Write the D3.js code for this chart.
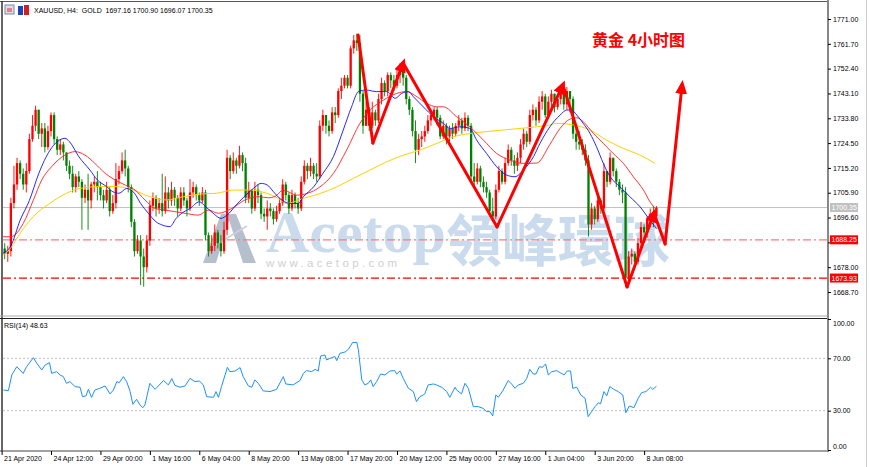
<!DOCTYPE html>
<html>
<head>
<meta charset="utf-8">
<script src="https://cdn.jsdelivr.net/npm/d3@7"></script>
<style>
  body { margin: 0; background: #fff; }
  text { font-family: "Liberation Sans", Arial, sans-serif; }
</style>
</head>
<body>
<div id="chart"></div>
<script>
// XAUUSD H4 candles, one value per bar (open of a bar = close of the bar before)
var firstOpen = 1684;
var closes = [1685,1683,1684,1702,1709,1717,1713,1709,1714,1726,
  1731,1737,1728,1730,1723,1729,1735,1726,1722,1724,
  1721,1716,1713,1708,1712,1710,1704,1707,1703,1709,
  1710,1708,1705,1703,1707,1699,1702,1711,1714,1718,
  1715,1708,1695,1684,1688,1682,1678,1688,1701,1704,
  1700,1702,1699,1706,1703,1707,1704,1700,1706,1703,
  1700,1706,1708,1705,1703,1706,1690,1684,1686,1691,
  1687,1684,1692,1719,1714,1718,1716,1720,1717,1704,
  1707,1700,1707,1705,1698,1697,1700,1699,1696,1699,
  1702,1709,1705,1700,1705,1702,1700,1710,1716,1714,
  1716,1713,1712,1731,1735,1731,1729,1736,1735,1744,
  1746,1749,1746,1760,1763,1762,1743,1731,1737,1731,
  1736,1733,1741,1747,1744,1750,1748,1746,1750,1753,
  1749,1741,1737,1729,1722,1726,1727,1729,1733,1735,
  1737,1734,1727,1731,1727,1730,1728,1731,1733,1730,
  1734,1731,1712,1710,1715,1710,1708,1706,1699,1697,
  1707,1714,1710,1717,1722,1718,1716,1719,1724,1728,
  1725,1735,1737,1733,1740,1742,1735,1740,1743,1738,
  1741,1743,1739,1744,1741,1728,1725,1724,1722,1718,
  1694,1700,1696,1703,1700,1714,1710,1719,1714,1710,
  1707,1706,1674,1682,1683,1680,1687,1693,1691,1696,
  1698,1697.16,1700.35];
var highs = [1689,1687,1686,1704,1716,1719,1718,1715,1717,1728,
  1735,1738.5,1737,1732,1732,1731,1736,1736,1727,1726,
  1725,1721,1718,1716,1713,1714,1711,1709,1713,1710,
  1712,1714,1710,1707,1710,1708,1705,1717,1716,1721,
  1722,1716,1709,1696,1690,1690,1685,1690,1703,1706,
  1705,1704,1713,1712,1708,1710,1708,1705,1708,1708,
  1704,1711,1710,1709,1706,1708,1707,1691,1690,1694,
  1692,1690,1695,1722,1720,1721,1719,1723.5,1721,1719,
  1710,1707,1710,1709,1706,1700,1703,1702,1700,1701,
  1704,1711,1710,1706,1707,1706,1704,1712,1718,1717,
  1719,1717,1717,1733,1737,1735,1733,1738,1738,1745,
  1749,1750,1750,1761,1765,1765.5,1765,1744,1740,1738,
  1740,1737,1743,1749,1748,1751,1751,1750,1752,1754.5,
  1753,1750,1742,1738,1733,1728,1729,1731,1735,1737,
  1738,1738,1735,1733,1732,1731,1732,1732,1735,1734,
  1736,1735,1732,1717,1717,1716,1712,1710,1707,1704,
  1709,1716,1715,1719,1724,1723,1720,1721,1726,1730,
  1729,1737,1739,1738,1742,1744,1743,1742,1744.5,1743,
  1742,1744,1744,1745.5,1744,1742,1730,1729,1726,1724,
  1720,1702,1701,1705,1704,1717,1714,1721,1719,1715,
  1711,1709,1708,1684,1685,1684,1689,1695,1694,1697,
  1700,1701,1700.9];
var lows = [1682,1681,1680,1682,1700,1707,1711,1707,1706,1713,
  1725,1729,1726,1723,1721,1722,1727,1724,1720,1720,
  1718,1714,1711,1706,1706,1708,1692,1702,1692,1700,
  1706,1703,1703,1700,1702,1697,1698,1700,1709,1713,
  1712,1706,1693,1682,1683,1671.3,1670.7,1676,1686,1699,
  1697,1698,1697,1698,1700,1701,1701,1697,1699,1701,
  1697,1699,1704,1703,1701,1702,1688,1682,1683,1684,
  1685,1682,1683,1690,1711,1713,1713,1715,1714,1702,
  1702,1698,1699,1702,1696,1695,1692,1697,1694,1695,
  1698,1701,1703,1698,1699,1700,1698,1699,1709,1711,
  1712,1711,1710,1711,1729,1728,1727,1728,1732,1734,
  1741,1745,1745,1745,1758,1759,1740,1728,1731,1729,
  1730,1731,1732,1739,1742,1742,1745,1744,1745,1747,
  1746,1739,1735,1727,1717,1720,1723,1725,1728,1731,
  1733,1731,1726,1726,1724,1725,1726,1727,1729,1728,
  1729,1729,1710,1708,1709,1708,1706,1704,1697,1695,
  1696,1706,1709,1709,1716,1716,1713,1714,1717,1722,
  1723,1724,1733,1731,1732,1737,1734,1734,1738,1736,
  1737,1739,1737,1737,1736,1726,1722,1722,1720,1716,
  1689.5,1692,1694,1695,1698,1699,1708,1709,1712,1708,
  1705,1702,1670.6,1672,1679,1678,1679,1685,1689,1689,
  1693,1693,1696.07];

// moving averages as [bar, price]
var blueMA = [[0,1683],[3,1686],[6,1695.6],[9,1703],[12,1713],[15.7,1721.9],[18,1725],[20.5,1726.3],[22,1725],
  [25,1719.4],[28.6,1714.4],[31,1710.7],[34,1708.2],[36,1706.3],[38,1705.7],[40.5,1707.5],[43,1705.7],
  [45,1701.9],[47.5,1698.2],[50,1695],[52,1693.8],[54.5,1693.2],[56.5,1696.3],[58.3,1698.2],[61,1700],
  [64,1702.5],[66,1700.7],[68.5,1698.2],[71,1696.3],[73,1697.5],[75.5,1700.7],[78.5,1704.4],[81.5,1707.5],
  [84,1709.4],[86,1708.8],[88,1706.3],[90,1703.8],[93.4,1701.9],[96,1701.9],[97.7,1704.4],[101,1708.1],
  [104,1713.1],[107.4,1719.4],[110.6,1729.4],[113.3,1738.1],[115.5,1743.8],[118,1744.4],[121.4,1743.8],
  [124.7,1743.8],[127.4,1741.3],[129.5,1743.1],[131.7,1743.8],[133.3,1741.9],[136.5,1738.1],[139.8,1734.4],
  [143,1731.9],[145.2,1730],[148.4,1730.6],[151.6,1730],[153.8,1725.6],[157,1720.6],[160.3,1715.6],
  [163.5,1712.5],[166.2,1711.9],[168.9,1714.4],[172.2,1719.4],[174.3,1724.4],[177.5,1730.6],[180.8,1735],
  [183,1736.9],[184.5,1736.9],[186.2,1735],[188.3,1731.9],[190.5,1728.1],[192.6,1723.1],[194.8,1716.9],
  [197,1711.9],[200.2,1708.1],[203.4,1704.4],[206.7,1700.6],[209.9,1695.6],[212,1692.5]];
var redMA = [[0,1689.4],[3,1689.4],[7,1694.4],[10.3,1703.2],[13,1710.7],[16.2,1715.7],[20.5,1720],[23.8,1721.3],
  [27,1720],[30.2,1716.9],[33.5,1713.2],[36.7,1710.7],[40,1708.8],[43.2,1706.9],[46.4,1703.2],[49.7,1700],
  [52.9,1699.4],[56.1,1698.8],[59.4,1698.2],[63.7,1697.5],[66.9,1699.4],[70.2,1698.2],[74.5,1700],
  [78.8,1703.2],[83.1,1704.4],[86.4,1704],[88.5,1704.5],[91.2,1706.9],[95.5,1705],[98.8,1705.6],
  [103.1,1708.1],[107.4,1713.1],[111.7,1721.9],[116,1731.9],[119.3,1736.9],[123.6,1740.6],[127.9,1743.1],
  [131.1,1743.8],[134.4,1741.9],[137.6,1739.4],[140.9,1738.1],[143,1738.1],[147.3,1734.4],[151.6,1730.6],
  [156,1725.6],[160.3,1720.6],[164.6,1718.1],[168.9,1716.9],[173.2,1717],[177.5,1724],[180.8,1730],
  [184,1733.5],[186.2,1734],[188.3,1732.5],[191.6,1728.1],[194.8,1724.4],[198,1720.6],[201.3,1716.9],
  [204.5,1711.9],[207.8,1706.9],[209.9,1702.5],[212,1699.4]];
var yellowMA = [[0,1682],[3.2,1685.6],[6,1690.7],[10.3,1697],[15.7,1702],[21,1705.7],[25.4,1707.5],
  [31.8,1708.2],[37.3,1708.2],[42.6,1706.9],[48,1704.4],[53.4,1703.2],[58.8,1704.4],[64.2,1705.4],
  [69.6,1705.7],[75,1706.9],[80.4,1706.9],[85.8,1705.7],[89.6,1703.8],[92.3,1701.9],[97.7,1703.8],
  [103.1,1705.6],[108.5,1708.1],[113.9,1711.3],[119.3,1714.4],[124.7,1717.5],[130.1,1720],[135.5,1721.9],
  [140.9,1724.4],[146.3,1726.9],[151.6,1728.1],[157,1728.8],[162.4,1729.4],[167.8,1730],[173.2,1730.6],
  [177.5,1731.3],[179.7,1731.9],[185.1,1731.3],[190.5,1729.4],[195.9,1725.6],[201.3,1722.5],[206.7,1720],
  [211.5,1716.9]];

// RSI(14) as [bar, value]
var rsiPoints = [[0.6,45.8],[2.2,45.3],[3.3,57.3],[4.9,63.6],[7,58.5],[8.1,63.6],[10.3,70.5],[11.4,66.2],
  [13,61.1],[14.1,64.9],[15.5,66.7],[16.2,58.5],[17.8,59.8],[18.9,57.3],[20,56],[21,50.9],[22.1,52.2],
  [23.8,48.4],[25.4,47.9],[26.2,40.7],[27.3,41.3],[28.1,46.3],[29.1,40.2],[30.2,45.8],[31.8,47.1],
  [33.5,48.9],[35.1,42.8],[36.2,45.8],[37.3,52.2],[38.1,51.4],[39.4,56],[40.5,52.2],[41.6,44.6],
  [42.5,34.9],[43.7,38.7],[44.8,34.4],[45.7,32.3],[46.4,34.4],[48,50.9],[49.7,46.3],[52.4,53],[54,49.7],
  [55.1,54.5],[56.1,49.4],[57.7,47.9],[59.4,48.9],[61,54.7],[62.6,52.2],[64,52.7],[65.3,49.7],[66.4,40.7],
  [68.6,40.2],[69.4,44.6],[70.2,40.2],[71.2,48.4],[73.1,63.1],[73.9,59.8],[75.6,60.3],[77.2,62.9],
  [78.2,56],[79.9,48.9],[81,47.9],[82,53.5],[83.1,50.9],[84.7,45.1],[86.9,44.6],[89,46.3],[91.2,56],
  [92,50.4],[94.4,49.7],[96.6,53],[97.7,58.5],[98.7,60.6],[100.4,59.8],[101.5,61.6],[102.5,60.3],
  [103.3,71.8],[104.7,72.5],[105.2,68.7],[106.8,70.5],[107.9,71.3],[108.5,68.2],[109.5,73.8],[111.2,74.8],
  [112.3,76.9],[113.6,82],[115,82.2],[115.5,76.4],[116.6,53.5],[117.6,49.7],[118.7,50.9],[119.5,53.5],
  [120.3,48.4],[121.4,52.2],[122.7,58],[124.1,57.3],[125.7,60.3],[127.3,60.6],[127.9,58],[129,60.3],
  [130,54.7],[131.7,47.1],[133.3,44.6],[134.3,36.9],[135.4,40.7],[136.5,42],[137,42.8],[138.1,49.7],
  [139.8,50.4],[140.8,49.7],[142.5,47.9],[144.1,44.6],[145.1,40.2],[146.8,47.9],[147.3,45.8],[148.9,42.8],
  [150,50.9],[151.1,47.1],[152.7,33.1],[154.3,33.1],[155.9,31.8],[157,29.3],[158.1,29.3],[159,26],
  [160,42],[160.8,40.2],[162.4,45.8],[164,53],[165.1,50.4],[166.2,47.1],[167.3,49.7],[168.9,50.9],
  [170,54.7],[171,61.6],[172.1,58],[173,58],[174.1,63.6],[175.1,63.1],[176.1,65.7],[177,57.3],[178.1,59.8],
  [179.7,60.6],[180.8,59.1],[182.1,57.3],[183.1,60.3],[184.2,60.3],[184.9,47.1],[186.2,47.9],[187.5,42],
  [188.9,39.5],[189.9,25.5],[191,29.3],[192.1,33.1],[193.2,36.1],[193.9,35.2],[195,44.6],[195.9,41.3],
  [196.9,48.4],[198.2,46.3],[199.6,44.6],[201.1,42],[202.1,28.5],[203.2,33.6],[204.7,32.3],[206.1,39.5],
  [207.2,43.8],[208.6,44.6],[209.4,46.3],[210.1,47.9],[210.8,46.3],[212,48.63]];

// axis ticks
var timeTicks = [0,16,32,48,64,80,96,112,128,144,160,176,192,208];
var timeLabels = ["21 Apr 2020","24 Apr 12:00","29 Apr 00:00","1 May 16:00","6 May 04:00","8 May 20:00",
  "13 May 08:00","17 May 20:00","20 May 12:00","25 May 00:00","27 May 16:00","1 Jun 04:00",
  "3 Jun 20:00","8 Jun 08:00"];
var priceTicks = [1771.00,1761.70,1752.40,1743.10,1733.80,1724.50,1715.20,1705.90,1696.60,1687.30,1678.00,1668.70];
var rsiTicks = [100,70,30,0];
var rsiLevels = [70,30];

// price lines
var lastPrice = 1700.35;
var levelHigh = 1688.25;
var levelLow = 1673.93;

// hand drawn zigzag forecast, as [bar, price]
var zigBars = [115.4,120.2,130,160.4,181.7,202.5,211.2,214.8,220.3];
var zigPrices = [1765,1724.5,1754.5,1693.1,1746.3,1670.6,1698.3,1686.7,1746.3];

function init(){

  var w = 870, h = 467;
  var left = 3, right = 828;

  var svg = d3.select("#chart")
    .append("svg")
      .attr("width", w)
      .attr("height", h)
      .style("display", "block");

  svg.append("rect").attr("width", w).attr("height", h).attr("fill", "#fff");

  // scales
  var x = d3.scaleLinear().domain([0, 208]).range([1.6, 644.1]);
  var y = d3.scaleLinear().domain([1668.7, 1771]).range([292, 19]);
  var yr = d3.scaleLinear().domain([0, 100]).range([450, 319]);

  var defs = svg.append("defs");
  defs.append("clipPath").attr("id", "clipMain")
    .append("rect").attr("x", left).attr("y", 3).attr("width", right - left).attr("height", 313);
  defs.append("clipPath").attr("id", "clipRsi")
    .append("rect").attr("x", left).attr("y", 319).attr("width", right - left).attr("height", 131);
  defs.append("marker")
      .attr("id", "arrow")
      .attr("markerUnits", "userSpaceOnUse")
      .attr("markerWidth", 14).attr("markerHeight", 12)
      .attr("refX", 9).attr("refY", 6)
      .attr("orient", "auto")
    .append("path")
      .attr("d", "M0,0 L14,6 L0,12 Z")
      .attr("fill", "#ff0000");

  var main = svg.append("g").attr("clip-path", "url(#clipMain)");

  // watermark behind the candles
  var wm = main.append("g").attr("opacity", 0.9);
  wm.append("path")
    .attr("d", "M203,263 L221,214 L231,214 L216,263 Z M227,214 L236,214 L256,263 L243,263 Z")
    .attr("fill", "#aeb9c8");
  wm.append("path")
    .attr("d", "M212,247 L247,226")
    .attr("stroke", "#c4cedb").attr("stroke-width", 2);
  wm.append("text")
    .attr("x", 266).attr("y", 252)
    .style("font-family", "'Liberation Serif', serif")
    .style("font-size", "60px")
    .style("font-weight", "bold")
    .attr("fill", "#c4d8ec")
    .text("Acetop");
  wm.append("text")
    .attr("x", 446).attr("y", 261)
    .style("font-family", "'Noto Sans CJK TC', sans-serif")
    .style("font-size", "56px")
    .style("font-weight", "bold")
    .attr("fill", "#c4d8ec")
    .text("領峰環球");
  wm.append("text")
    .attr("x", 266).attr("y", 267)
    .style("font-size", "11.5px")
    .style("letter-spacing", "3.4px")
    .attr("fill", "#cccccc")
    .text("www.acetop.com");

  // bid line and the two support levels
  main.append("line")
    .attr("x1", left).attr("x2", right)
    .attr("y1", y(lastPrice)).attr("y2", y(lastPrice))
    .attr("stroke", "#c0c0c0");
  main.append("line")
    .attr("x1", left).attr("x2", right)
    .attr("y1", y(levelHigh)).attr("y2", y(levelHigh))
    .attr("stroke", "#ff7a7a").attr("stroke-width", 1.3)
    .attr("stroke-dasharray", "8,3,2,3");
  main.append("line")
    .attr("x1", left).attr("x2", right)
    .attr("y1", y(levelLow)).attr("y2", y(levelLow))
    .attr("stroke", "#ff0000").attr("stroke-width", 1.3)
    .attr("stroke-dasharray", "8,3,2,3");

  // build candles
  var bars = closes.map(function(c, i){
    var o = i ? closes[i-1] : firstOpen;
    return {i: i, o: o, c: c, h: Math.max(highs[i], o, c), l: Math.min(lows[i], o, c)};
  });
  var colour = function(d){ return d.c >= d.o ? "#ff0000" : "#008000"; };

  main.append("g").selectAll("line")
    .data(bars)
    .enter().append("line")
      .attr("x1", function(d){ return x(d.i); })
      .attr("x2", function(d){ return x(d.i); })
      .attr("y1", function(d){ return y(d.h); })
      .attr("y2", function(d){ return y(d.l); })
      .attr("stroke", colour)
      .attr("stroke-width", 0.9);

  main.append("g").selectAll("rect")
    .data(bars)
    .enter().append("rect")
      .attr("x", function(d){ return x(d.i) - 1.15; })
      .attr("width", 2.3)
      .attr("y", function(d){ return y(Math.max(d.o, d.c)); })
      .attr("height", function(d){ return Math.max(0.8, Math.abs(y(d.o) - y(d.c))); })
      .attr("fill", colour);

  // moving averages
  var maLine = d3.line()
    .x(function(d){ return x(d[0]); })
    .y(function(d){ return y(d[1]); })
    .curve(d3.curveMonotoneX);

  main.append("path").datum(yellowMA).attr("d", maLine)
    .attr("fill", "none").attr("stroke", "#ffd000").attr("stroke-width", 1);
  main.append("path").datum(redMA).attr("d", maLine)
    .attr("fill", "none").attr("stroke", "#ff2020").attr("stroke-width", 0.9);
  main.append("path").datum(blueMA).attr("d", maLine)
    .attr("fill", "none").attr("stroke", "#1010ff").attr("stroke-width", 0.9);

  // zigzag forecast: arrowheads on the rising legs
  var zig = main.append("g");
  for (var k = 0; k < zigBars.length - 1; k++) {
    var up = zigPrices[k+1] > zigPrices[k];
    zig.append("line")
      .attr("x1", x(zigBars[k])).attr("y1", y(zigPrices[k]))
      .attr("x2", x(zigBars[k+1])).attr("y2", y(zigPrices[k+1]))
      .attr("stroke", "#ff0000")
      .attr("stroke-width", 3)
      .attr("stroke-linecap", "round")
      .attr("marker-end", up ? "url(#arrow)" : null);
  }

  // chart title
  svg.append("text")
    .attr("x", 592).attr("y", 46)
    .style("font-family", "'Noto Sans CJK SC', sans-serif")
    .style("font-size", "16px")
    .style("font-weight", "bold")
    .attr("fill", "#ff0000")
    .text("黄金 4小时图");

  // RSI panel
  var rsiG = svg.append("g").attr("clip-path", "url(#clipRsi)");
  rsiG.selectAll(".lvl")
    .data(rsiLevels)
    .enter().append("line")
      .attr("x1", left).attr("x2", right)
      .attr("y1", function(d){ return yr(d); })
      .attr("y2", function(d){ return yr(d); })
      .attr("stroke", "#c0c0c0")
      .attr("stroke-dasharray", "2,2");

  var rsiLine = d3.line()
    .x(function(d){ return x(d[0]); })
    .y(function(d){ return yr(d[1]); });
  rsiG.append("path").datum(rsiPoints).attr("d", rsiLine)
    .attr("fill", "none").attr("stroke", "#1e90ff").attr("stroke-width", 1);

  svg.append("text")
    .attr("x", 4).attr("y", 328)
    .style("font-size", "7px")
    .text("RSI(14) " + rsiPoints[rsiPoints.length - 1][1].toFixed(2));

  // frames
  svg.append("line").attr("x1", 0).attr("x2", right).attr("y1", 1.5).attr("y2", 1.5).attr("stroke", "#555");
  svg.append("line").attr("x1", 2).attr("x2", 2).attr("y1", 1).attr("y2", 451).attr("stroke", "#333").attr("stroke-width", 1.5);
  svg.append("line").attr("x1", 0).attr("x2", right).attr("y1", 316).attr("y2", 316).attr("stroke", "#aaa");
  svg.append("line").attr("x1", 0).attr("x2", right).attr("y1", 318.5).attr("y2", 318.5).attr("stroke", "#222");
  svg.append("line").attr("x1", 0).attr("x2", right).attr("y1", 451).attr("y2", 451).attr("stroke", "#444");
  svg.append("line").attr("x1", right).attr("x2", right).attr("y1", 0).attr("y2", 452).attr("stroke", "#888").attr("stroke-width", 2);
  svg.append("line").attr("x1", 866.5).attr("x2", 866.5).attr("y1", 0).attr("y2", h).attr("stroke", "#ccc");

  // price axis (the 1687.30 label sits under the level tag, so only its tick is drawn)
  var pAxis = svg.append("g")
    .attr("transform", "translate(" + right + ",0)")
    .call(d3.axisRight(y).tickValues(priceTicks).tickSize(3).tickPadding(2)
      .tickFormat(function(d){ return Math.abs(d - levelHigh) < 2 ? "" : d.toFixed(2); }));
  pAxis.select(".domain").remove();
  pAxis.selectAll("text").style("font-size", "7px").style("font-family", "'Liberation Sans', Arial, sans-serif");

  // RSI axis
  var rAxis = svg.append("g")
    .attr("transform", "translate(" + right + ",0)")
    .call(d3.axisRight(yr).tickValues(rsiTicks).tickSize(3).tickPadding(2).tickFormat(d3.format(".2f")));
  rAxis.select(".domain").remove();
  rAxis.selectAll("text")
    .style("font-size", "7px").style("font-family", "'Liberation Sans', Arial, sans-serif")
    .attr("dy", function(d){ return d == 100 ? "0.9em" : d == 0 ? "-0.2em" : "0.32em"; });

  // time axis
  var tAxis = svg.append("g")
    .attr("transform", "translate(0,451)")
    .call(d3.axisBottom(x).tickValues(timeTicks).tickSize(4).tickPadding(1)
      .tickFormat(function(d, i){ return timeLabels[i]; }));
  tAxis.select(".domain").remove();
  tAxis.selectAll("text")
    .attr("text-anchor", "start")
    .attr("dx", 2)
    .style("font-size", "7px").style("font-family", "'Liberation Sans', Arial, sans-serif");

  // price tags on the axis
  var tags = [[lastPrice, "#c0c0c0"], [levelHigh, "#ff0000"], [levelLow, "#ff0000"]];
  tags.forEach(function(t){
    svg.append("rect")
      .attr("x", right + 2).attr("y", y(t[0]) - 4.5)
      .attr("width", 28).attr("height", 9)
      .attr("fill", t[1]);
    svg.append("text")
      .attr("x", right + 3.5).attr("y", y(t[0]) + 2.5)
      .style("font-size", "7px")
      .attr("fill", "#fff")
      .text(t[0].toFixed(2));
  });

  // header with the two little icons
  svg.append("rect").attr("x", 5).attr("y", 5).attr("width", 9).attr("height", 9)
    .attr("fill", "#d8e0f0").attr("stroke", "#7a8aa8");
  svg.append("rect").attr("x", 7).attr("y", 8).attr("width", 5).attr("height", 4).attr("fill", "#f08080");
  svg.append("rect").attr("x", 18).attr("y", 6).attr("width", 5).attr("height", 9).attr("fill", "#2040c0");
  svg.append("rect").attr("x", 24).attr("y", 5).attr("width", 5).attr("height", 10).attr("fill", "#d02020");
  var last = bars[bars.length - 1];
  svg.append("text")
    .attr("x", 34).attr("y", 13)
    .style("font-size", "7px")
    .attr("xml:space", "preserve")
    .text("XAUUSD, H4:  GOLD  " + [last.o, last.h, last.l, last.c].map(function(v){ return v.toFixed(2); }).join(" "));
}
window.onload = init;
</script>
</body>
</html>
